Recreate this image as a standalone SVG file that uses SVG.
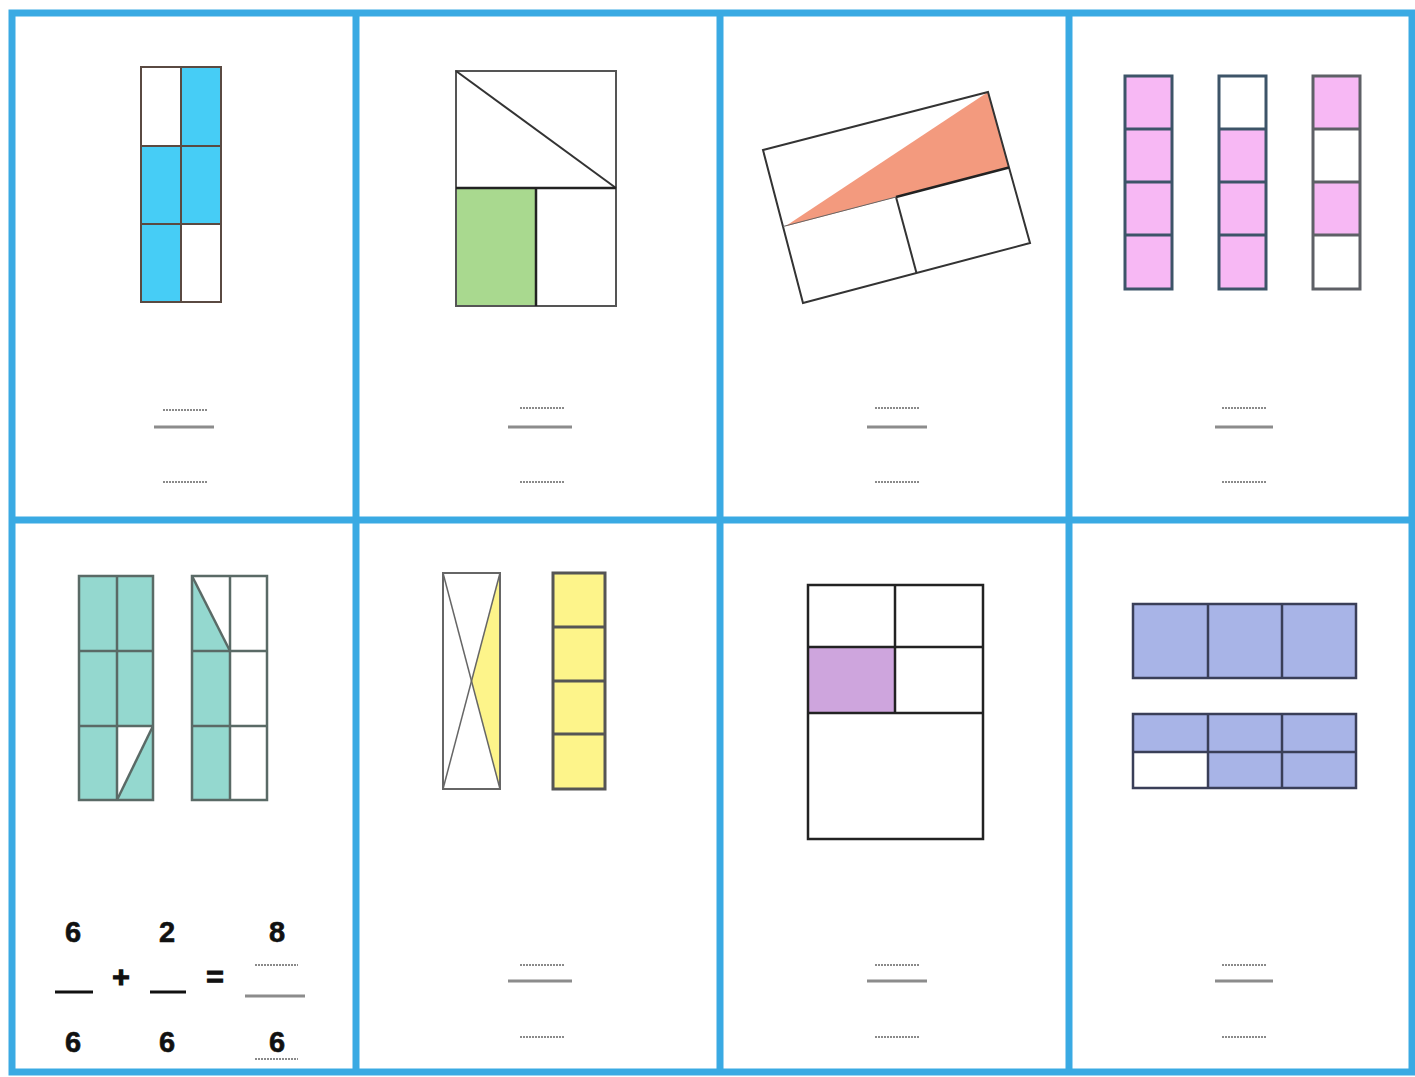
<svg xmlns="http://www.w3.org/2000/svg" width="1415" height="1077" viewBox="0 0 1415 1077">
<style>
.frame{fill:none;stroke:#3aaae3;stroke-width:7}
.dot{stroke:#8a8a8a;stroke-width:1.8;stroke-dasharray:2 1;fill:none}
.bar{stroke:#8c8c8c;stroke-width:3;fill:none}
.num{font-family:"Liberation Sans",Arial,sans-serif;font-weight:bold;font-size:29px;fill:#111;stroke:#111;stroke-width:0.6;text-anchor:middle}
.sym{font-family:"Liberation Sans",Arial,sans-serif;font-weight:bold;font-size:30px;fill:#111;stroke:#111;stroke-width:1.2;text-anchor:middle}
.thick{fill:none;stroke:#3d5468;stroke-width:3}
</style>
<rect x="0" y="0" width="1415" height="1077" fill="#ffffff"/>
<g id="grid">
<rect class="frame" x="12" y="13" width="1400" height="1059"/>
<line class="frame" x1="356" y1="13" x2="356" y2="1072"/>
<line class="frame" x1="720" y1="13" x2="720" y2="1072"/>
<line class="frame" x1="1069" y1="13" x2="1069" y2="1072"/>
<line class="frame" x1="12" y1="520" x2="1412" y2="520"/>
</g>
<g id="panel1">
<rect x="181" y="67" width="40" height="79" fill="#46cdf6"/>
<rect x="141" y="146" width="80" height="78" fill="#46cdf6"/>
<rect x="141" y="224" width="40" height="78" fill="#46cdf6"/>
<g fill="none" stroke="#5a4a42" stroke-width="2">
<rect x="141" y="67" width="80" height="235"/>
<line x1="181" y1="67" x2="181" y2="302"/>
<line x1="141" y1="146" x2="221" y2="146"/>
<line x1="141" y1="224" x2="221" y2="224"/>
</g>
<line class="dot" x1="163" y1="410" x2="208" y2="410"/>
<line class="bar" x1="154" y1="427" x2="214" y2="427"/>
<line class="dot" x1="163" y1="482" x2="208" y2="482"/>
</g>
<g id="panel2">
<rect x="456" y="188" width="80" height="118" fill="#a9d98f"/>
<rect x="456" y="71" width="160" height="235" fill="none" stroke="#555" stroke-width="2"/>
<line x1="456" y1="71" x2="616" y2="188" stroke="#333" stroke-width="2"/>
<line x1="456" y1="188" x2="616" y2="188" stroke="#222" stroke-width="2.5"/>
<line x1="536" y1="188" x2="536" y2="306" stroke="#222" stroke-width="2.5"/>
<line class="dot" x1="520" y1="408" x2="565" y2="408"/>
<line class="bar" x1="508" y1="427" x2="572" y2="427"/>
<line class="dot" x1="520" y1="482" x2="565" y2="482"/>
</g>
<g id="panel3">
<polygon points="785,226.5 988,92 1009,167.5" fill="#f39a7e"/>
<polygon points="763,150 988,92 1030,243 803,303" fill="none" stroke="#333" stroke-width="2"/>
<line x1="896" y1="197" x2="1009" y2="167.5" stroke="#222" stroke-width="2.5"/>
<line x1="896" y1="197" x2="916.5" y2="273" stroke="#333" stroke-width="2"/>
<line x1="783" y1="226.5" x2="896" y2="197" stroke="#666" stroke-width="1"/>
<line class="dot" x1="875" y1="408" x2="920" y2="408"/>
<line class="bar" x1="867" y1="427" x2="927" y2="427"/>
<line class="dot" x1="875" y1="482" x2="920" y2="482"/>
</g>
<g id="panel4">
<rect x="1125" y="76" width="47" height="213" fill="#f7b8f4"/>
<rect x="1219" y="129" width="47" height="160" fill="#f7b8f4"/>
<rect x="1313" y="76" width="47" height="53" fill="#f7b8f4"/>
<rect x="1313" y="182" width="47" height="53" fill="#f7b8f4"/>
<g class="thick">
<rect x="1125" y="76" width="47" height="213"/>
<line x1="1125" y1="129" x2="1172" y2="129"/>
<line x1="1125" y1="182" x2="1172" y2="182"/>
<line x1="1125" y1="235" x2="1172" y2="235"/>
<rect x="1219" y="76" width="47" height="213"/>
<line x1="1219" y1="129" x2="1266" y2="129"/>
<line x1="1219" y1="182" x2="1266" y2="182"/>
<line x1="1219" y1="235" x2="1266" y2="235"/>
</g>
<g fill="none" stroke="#5e6066" stroke-width="3">
<rect x="1313" y="76" width="47" height="213"/>
<line x1="1313" y1="129" x2="1360" y2="129"/>
<line x1="1313" y1="182" x2="1360" y2="182"/>
<line x1="1313" y1="235" x2="1360" y2="235"/>
</g>
<line class="dot" x1="1222" y1="408" x2="1267" y2="408"/>
<line class="bar" x1="1215" y1="427" x2="1273" y2="427"/>
<line class="dot" x1="1222" y1="482" x2="1267" y2="482"/>
</g>
<g id="panel5">
<polygon points="79,576 153,576 153,726 117,726 117,800 79,800" fill="#94d8cf"/>
<polygon points="153,726 153,800 117,800" fill="#94d8cf"/>
<polygon points="192,576 230,651 230,800 192,800" fill="#94d8cf"/>
<g fill="none" stroke="#5a6a66" stroke-width="2.5">
<rect x="79" y="576" width="74" height="224"/>
<line x1="117" y1="576" x2="117" y2="800"/>
<line x1="79" y1="651" x2="153" y2="651"/>
<line x1="79" y1="726" x2="153" y2="726"/>
<line x1="153" y1="726" x2="117" y2="800"/>
<rect x="192" y="576" width="75" height="224"/>
<line x1="230" y1="576" x2="230" y2="800"/>
<line x1="192" y1="651" x2="267" y2="651"/>
<line x1="192" y1="726" x2="267" y2="726"/>
<line x1="192" y1="576" x2="230" y2="651"/>
</g>
<text class="num" x="73" y="942">6</text>
<text class="num" x="73" y="1052">6</text>
<line x1="55" y1="992" x2="93" y2="992" stroke="#111" stroke-width="3"/>
<text class="sym" x="121" y="987">+</text>
<text class="num" x="167" y="942">2</text>
<text class="num" x="167" y="1052">6</text>
<line x1="150" y1="992" x2="186" y2="992" stroke="#111" stroke-width="3"/>
<text class="sym" x="215" y="987">=</text>
<text class="num" x="277" y="942">8</text>
<line class="dot" x1="255" y1="965" x2="298" y2="965"/>
<line class="bar" x1="245" y1="996" x2="305" y2="996"/>
<text class="num" x="277" y="1052">6</text>
<line class="dot" x1="255" y1="1059" x2="298" y2="1059"/>
</g>
<g id="panel6">
<polygon points="500,573 471.5,681 500,789" fill="#fdf48a"/>
<g fill="none" stroke="#666" stroke-width="2">
<rect x="443" y="573" width="57" height="216"/>
<line x1="443" y1="573" x2="500" y2="789" stroke-width="1.5"/>
<line x1="500" y1="573" x2="443" y2="789" stroke-width="1.5"/>
</g>
<rect x="553" y="573" width="52" height="216" fill="#fdf48a"/>
<g fill="none" stroke="#555" stroke-width="3">
<rect x="553" y="573" width="52" height="216"/>
<line x1="553" y1="627" x2="605" y2="627"/>
<line x1="553" y1="681" x2="605" y2="681"/>
<line x1="553" y1="734" x2="605" y2="734"/>
</g>
<line class="dot" x1="520" y1="965" x2="565" y2="965"/>
<line class="bar" x1="508" y1="981" x2="572" y2="981"/>
<line class="dot" x1="520" y1="1037" x2="565" y2="1037"/>
</g>
<g id="panel7">
<rect x="808" y="647" width="87" height="66" fill="#cea5dd"/>
<g fill="none" stroke="#222" stroke-width="2.5">
<rect x="808" y="585" width="175" height="254"/>
<line x1="895" y1="585" x2="895" y2="713"/>
<line x1="808" y1="647" x2="983" y2="647"/>
<line x1="808" y1="713" x2="983" y2="713"/>
</g>
<line class="dot" x1="875" y1="965" x2="920" y2="965"/>
<line class="bar" x1="867" y1="981" x2="927" y2="981"/>
<line class="dot" x1="875" y1="1037" x2="920" y2="1037"/>
</g>
<g id="panel8">
<rect x="1133" y="604" width="223" height="74" fill="#a8b4e7"/>
<rect x="1133" y="714" width="223" height="38" fill="#a8b4e7"/>
<rect x="1208" y="752" width="148" height="36" fill="#a8b4e7"/>
<g fill="none" stroke="#3a3f58" stroke-width="2.5">
<rect x="1133" y="604" width="223" height="74"/>
<line x1="1208" y1="604" x2="1208" y2="678"/>
<line x1="1282" y1="604" x2="1282" y2="678"/>
<rect x="1133" y="714" width="223" height="74"/>
<line x1="1133" y1="752" x2="1356" y2="752"/>
<line x1="1208" y1="714" x2="1208" y2="788"/>
<line x1="1282" y1="714" x2="1282" y2="788"/>
</g>
<line class="dot" x1="1222" y1="965" x2="1267" y2="965"/>
<line class="bar" x1="1215" y1="981" x2="1273" y2="981"/>
<line class="dot" x1="1222" y1="1037" x2="1267" y2="1037"/>
</g>
<g id="connectors"/>
</svg>
